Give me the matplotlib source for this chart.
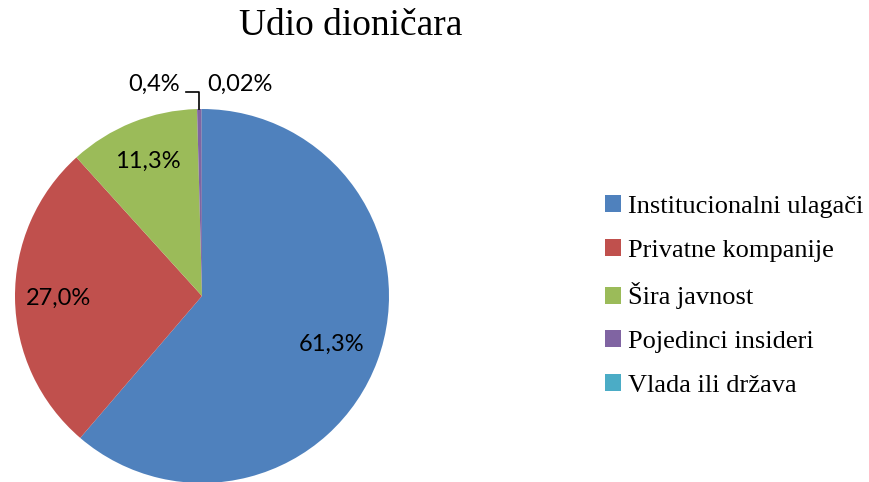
import numpy as np
import matplotlib
matplotlib.use("Agg")
import matplotlib.pyplot as plt
from matplotlib.patches import Patch

title = "Udio dioničara"
categories = ["Institucionalni ulagači", "Privatne kompanije", "Šira javnost",
              "Pojedinci insideri", "Vlada ili država"]
values = [61.3, 27.0, 11.3, 0.4, 0.02]
pct_labels = ["61,3%", "27,0%", "11,3%", "0,4%", "0,02%"]
colors = ["#4F81BD", "#C0504D", "#9BBB59", "#8064A2", "#4BACC6"]

W, H = 869, 482
fig = plt.figure(figsize=(W / 100, H / 100), dpi=100)
cx, cy, R = 202, 482 - 296, 187
ax = fig.add_axes([(cx - R) / W, (cy - R) / H, 2 * R / W, 2 * R / H])
ax.axis("off")

wedges, _ = ax.pie(values, colors=colors, startangle=90, counterclock=False,
                   radius=1, wedgeprops=dict(linewidth=0))
ax.set_xlim(-1, 1)
ax.set_ylim(-1, 1)

lab_font = dict(family=["Lato", "DejaVu Sans"], fontsize=17, color="black")
for w, lab, d in zip(wedges[:3], pct_labels[:3], [0.74, 0.765, 0.775]):
    ang = np.deg2rad((w.theta1 + w.theta2) / 2)
    ax.text(d * np.cos(ang), d * np.sin(ang), lab, ha="center", va="center", **lab_font)

# small slices with leader line
w4 = wedges[3]
ang4 = np.deg2rad((w4.theta1 + w4.theta2) / 2)
x0, y0 = np.cos(ang4), np.sin(ang4)
ax.plot([x0, x0, x0 - 0.07], [y0, 1.09, 1.09], color="black", lw=1.2, clip_on=False)
ax.text(-0.118, 1.134, pct_labels[3], ha="right", va="center", clip_on=False, **lab_font)
ax.text(0.027, 1.134, pct_labels[4], ha="left", va="center", clip_on=False, **lab_font)

fig.text(351 / W, 1 - 26 / H, title, ha="center", va="center",
         family=["Liberation Serif", "DejaVu Serif"], fontsize=27)

handles = [Patch(facecolor=c, edgecolor="none") for c in colors]
fig.legend(handles, categories, loc="upper left", bbox_to_anchor=(605 / W, 1 - 195 / H),
           frameon=False, prop=dict(family=["Liberation Serif", "DejaVu Serif"], size=19),
           handlelength=0.62, handleheight=0.62, handletextpad=0.25, labelspacing=0.79,
           borderpad=0, borderaxespad=0)

fig.savefig("out.png", dpi=100)
